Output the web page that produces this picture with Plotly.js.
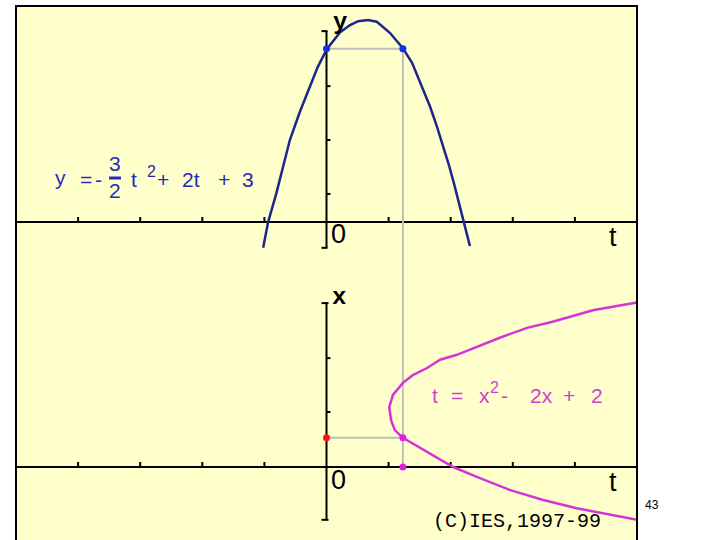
<!DOCTYPE html>
<html><head><meta charset="utf-8">
<script src="https://cdn.plot.ly/plotly-3.0.1.min.js"></script>
<style>html,body{margin:0;padding:0;background:#fff}</style>
</head><body><div id="chart" style="width:720px;height:540px"></div>
<script>
// ---- Data ----
// Upper graph: y = -3/2 t^2 + 2t + 3
const topT = [-1.02,-0.94,-0.81,-0.70,-0.59,-0.43,-0.27,-0.14,0.01,0.22,0.38,0.51,0.67,0.81,1.02,1.23,1.38,1.54,1.67,1.78,1.88,1.97,2.05,2.12,2.21,2.31];
const topY = [-0.47,0.00,0.51,1.00,1.49,2.00,2.47,2.82,3.15,3.45,3.58,3.65,3.67,3.64,3.44,3.16,2.89,2.45,2.09,1.73,1.38,1.04,0.71,0.40,0.00,-0.44];
// Lower graph: t = x^2 - 2x + 2
const botT = [5.00,4.29,3.64,3.23,2.79,2.42,2.10,1.83,1.62,1.39,1.23,1.07,1.01,1.04,1.10,1.23,1.51,2.04,2.42,2.96,3.49,4.03,5.00];
const botX = [2.99,2.85,2.64,2.53,2.35,2.18,2.04,1.95,1.80,1.67,1.53,1.31,1.09,0.85,0.67,0.53,0.35,0.00,-0.18,-0.42,-0.60,-0.75,-0.96];
// marked points
const topPtT = [0, 1.23];
const topPtY = [3.15, 3.15];
const redPtT = [0];
const redPtX = [0.53];
const magPtT = [1.23, 1.23];
const magPtX = [0.53, 0];
// axis decorations
const tTicks = [-4,-3,-2,-1,1,2,3,4];
const yTicks = [0.51,1.49,2.47];
const yAxisEnds = [-0.47, 3.47];
const xTicks = [1.0, 1.98];
const xAxisEnds = [-0.96, 2.98];

// ---- layout geometry ----
const L=16, R=637, T=6, B=540;
const TOP_RANGE=[-0.9636, 3.927], BOT_RANGE=[-1.327, 3.491];
const SPLIT = 0.4963;
function pxX(x){return (x-L)/(R-L);}
function pxY(y){return (B-y)/(B-T);}

const blueLine = '#1c248e', bluePt = '#1030e8', mag = '#d633d6', grey = '#bdbdbd';

const traces = [
  {x:[topPtT[0], topPtT[1]], y:[topPtY[0], topPtY[1]], xaxis:'x', yaxis:'y', mode:'lines', line:{color:grey,width:2}, hoverinfo:'skip'},
  {x:[topPtT[1], topPtT[1]], y:[topPtY[1], TOP_RANGE[0]], xaxis:'x', yaxis:'y', mode:'lines', line:{color:grey,width:2}, hoverinfo:'skip'},
  {x:[magPtT[0], magPtT[1]], y:[BOT_RANGE[1], magPtX[1]], xaxis:'x2', yaxis:'y2', mode:'lines', line:{color:grey,width:2}, hoverinfo:'skip'},
  {x:[redPtT[0], magPtT[0]], y:[redPtX[0], magPtX[0]], xaxis:'x2', yaxis:'y2', mode:'lines', line:{color:grey,width:2}, hoverinfo:'skip'},
  {x:topT, y:topY, xaxis:'x', yaxis:'y', mode:'lines', line:{color:blueLine,width:2.5}},
  {x:botT, y:botX, xaxis:'x2', yaxis:'y2', mode:'lines', line:{color:mag,width:2.5}},
  {x:topPtT, y:topPtY, xaxis:'x', yaxis:'y', mode:'markers', marker:{color:bluePt,size:7}},
  {x:redPtT, y:redPtX, xaxis:'x2', yaxis:'y2', mode:'markers', marker:{color:'#ff1010',size:7}},
  {x:magPtT, y:magPtX, xaxis:'x2', yaxis:'y2', mode:'markers', marker:{color:'#e020e0',size:7}}
];

const shapes = [];
function seg(o){ shapes.push(Object.assign({type:'line', layer:'below', line:{color:'#000',width:2}}, o)); }
[['x','y'],['x2','y2']].forEach(([xr,yr])=>{
  tTicks.forEach(t=>seg({xref:xr, yref:yr, x0:t, x1:t, ysizemode:'pixel', yanchor:0, y0:0, y1:5}));
});
seg({xref:'x', yref:'y', x0:0, x1:0, y0:yAxisEnds[0], y1:yAxisEnds[1]});
yAxisEnds.forEach(v=>seg({xref:'x', yref:'y', xsizemode:'pixel', xanchor:0, x0:-5, x1:1, y0:v, y1:v}));
yTicks.forEach(v=>seg({xref:'x', yref:'y', xsizemode:'pixel', xanchor:0, x0:0, x1:4, y0:v, y1:v}));
seg({xref:'x2', yref:'y2', x0:0, x1:0, y0:xAxisEnds[0], y1:xAxisEnds[1]});
xAxisEnds.forEach(v=>seg({xref:'x2', yref:'y2', xsizemode:'pixel', xanchor:0, x0:-5, x1:2, y0:v, y1:v}));
xTicks.forEach(v=>seg({xref:'x2', yref:'y2', xsizemode:'pixel', xanchor:0, x0:0, x1:4, y0:v, y1:v}));
shapes.push({type:'rect', xref:'paper', yref:'paper', x0:0, x1:1, y0:-0.05, y1:1, layer:'above', line:{color:'#000',width:2}});
shapes.push({type:'line', xref:'paper', yref:'paper', x0:pxX(109), x1:pxX(121), y0:pxY(178), y1:pxY(178), line:{color:'#2a2ab8',width:3}});

const annotations = [];
function txt(s, x, y, font, xa){
  annotations.push({text:s, xref:'paper', yref:'paper', x:pxX(x), y:pxY(y), xanchor:xa||'center', yanchor:'middle', showarrow:false, font:font});
}
const eqBlue = {family:'Liberation Sans, Arial, sans-serif', size:21, color:'#2a2ab8'};
const eqBlueSm = {family:'Liberation Sans, Arial, sans-serif', size:16, color:'#2a2ab8'};
[['y',60,177],['=',86,179],['-',98,179],['3',115,164],['2',115,191],['t',134,179],['+',163,179],['2t',191,179],['+',224,179],['3',248,179]]
  .forEach(([s,x,y])=>txt(s,x,y,eqBlue));
txt('2',151,171,eqBlueSm);

const eqMag = {family:'Liberation Sans, Arial, sans-serif', size:21, color:'#d040d0'};
const eqMagSm = {family:'Liberation Sans, Arial, sans-serif', size:16, color:'#d040d0'};
[['t',435,395],['=',457,395],['x',484,395],['-',504,395],['2x',541,395],['+',569,395],['2',597,395]]
  .forEach(([s,x,y])=>txt(s,x,y,eqMag));
txt('2',494,387,eqMagSm);

const axLab = {family:'Liberation Sans, Arial, sans-serif', size:27, color:'#000'};
const varLab = {family:'Liberation Mono, Courier New, monospace', size:24, color:'#000', weight:'bold'};
txt('y',340,23,varLab); txt('x',339,297,varLab);
txt('0',338,234,axLab); txt('0',338,480,axLab);
txt('t',613,237,axLab); txt('t',613,482,axLab);
txt('(C)IES,1997-99',517,521,{family:'Liberation Mono, Courier New, monospace', size:20, color:'#000'});
txt('43',652,505,{family:'Liberation Sans, Arial, sans-serif', size:12, color:'#000'});

const xcommon = {range:[-5,5], showgrid:false, zeroline:false, showticklabels:false, ticks:'', showline:false, fixedrange:true};
const ycommon = {showgrid:false, zeroline:true, zerolinecolor:'#000', zerolinewidth:2, showticklabels:false, ticks:'', showline:false, fixedrange:true};
const layout = {
  width:720, height:540,
  margin:{l:L, r:720-R, t:T, b:0, pad:0},
  paper_bgcolor:'#ffffff', plot_bgcolor:'#ffffcc',
  showlegend:false,
  xaxis:Object.assign({anchor:'y'}, xcommon),
  xaxis2:Object.assign({anchor:'y2'}, xcommon),
  yaxis:Object.assign({domain:[SPLIT,1], range:TOP_RANGE, anchor:'x'}, ycommon),
  yaxis2:Object.assign({domain:[0,SPLIT], range:BOT_RANGE, anchor:'x2'}, ycommon),
  shapes:shapes, annotations:annotations
};
Plotly.newPlot('chart', traces, layout, {displayModeBar:false, staticPlot:true});
</script></body></html>
